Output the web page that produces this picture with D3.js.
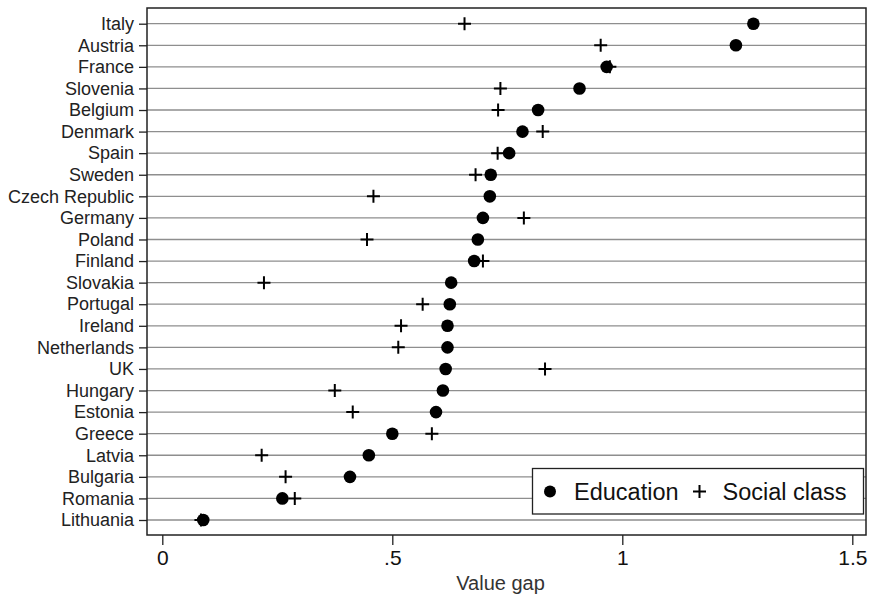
<!DOCTYPE html>
<html>
<head>
<meta charset="utf-8">
<script src="https://cdn.jsdelivr.net/npm/d3@7"></script>
<style>
  html, body { margin: 0; padding: 0; background: #fff; }
  svg { display: block; font-family: "Liberation Sans", Arial, sans-serif; }
</style>
</head>
<body>
<svg id="chart" width="870" height="598"></svg>
<script>
// Countries, top to bottom
const countries = ["Italy", "Austria", "France", "Slovenia", "Belgium", "Denmark", "Spain",
  "Sweden", "Czech Republic", "Germany", "Poland", "Finland", "Slovakia", "Portugal",
  "Ireland", "Netherlands", "UK", "Hungary", "Estonia", "Greece", "Latvia", "Bulgaria",
  "Romania", "Lithuania"];

// Value gap by education
const educationGap = [1.285, 1.247, 0.966, 0.907, 0.817, 0.783, 0.754, 0.714, 0.712, 0.697,
  0.686, 0.678, 0.628, 0.625, 0.620, 0.620, 0.616, 0.610, 0.595, 0.500, 0.449, 0.408,
  0.261, 0.089];

// Value gap by social class
const socialClassGap = [0.657, 0.953, 0.973, 0.735, 0.730, 0.827, 0.729, 0.681, 0.459, 0.786,
  0.445, 0.697, 0.221, 0.566, 0.519, 0.513, 0.832, 0.375, 0.414, 0.586, 0.216, 0.268,
  0.288, 0.084];

const xTicks = [0, 0.5, 1, 1.5];
const xTickLabels = ["0", ".5", "1", "1.5"];
const xTitle = "Value gap";
const legendLabels = ["Education", "Social class"];

const svg = d3.select("#chart");
const plot = { left: 147, right: 866, top: 8, bottom: 535 };

const x = d3.scaleLinear().domain([0, 1.5]).range([162.3, 852.3]);
const y = d3.scalePoint().domain(countries).range([23.7, 520]);

// Horizontal grid lines
svg.append("g").selectAll("line").data(countries).join("line")
  .attr("x1", plot.left).attr("x2", plot.right)
  .attr("y1", d => y(d)).attr("y2", d => y(d))
  .attr("stroke", "#8e8e8e").attr("stroke-width", 1.3);

// Plot frame
svg.append("rect")
  .attr("x", plot.left).attr("y", plot.top)
  .attr("width", plot.right - plot.left).attr("height", plot.bottom - plot.top)
  .attr("fill", "none").attr("stroke", "#222").attr("stroke-width", 1.5);

// Y axis (country names)
const yAxis = d3.axisLeft(y).tickSize(8).tickPadding(5);
const gy = svg.append("g").attr("transform", `translate(${plot.left},0)`).call(yAxis);
gy.select(".domain").remove();
gy.selectAll(".tick line").attr("stroke", "#222").attr("stroke-width", 1.3);
gy.selectAll(".tick text").attr("fill", "#222").attr("font-size", 18)
  .attr("font-family", "'Liberation Sans', Arial, sans-serif");

// X axis
const xAxis = d3.axisBottom(x).tickValues(xTicks)
  .tickFormat((d, i) => xTickLabels[i]).tickSize(10).tickPadding(5);
const gx = svg.append("g").attr("transform", `translate(0,${plot.bottom})`).call(xAxis);
gx.select(".domain").remove();
gx.selectAll(".tick line").attr("stroke", "#222").attr("stroke-width", 1.3);
gx.selectAll(".tick text").attr("fill", "#111").attr("font-size", 21)
  .attr("font-family", "'Liberation Sans', Arial, sans-serif");

svg.append("text")
  .attr("x", (plot.left + plot.right) / 2 - 6).attr("y", 590)
  .attr("text-anchor", "middle").attr("font-size", 20).attr("fill", "#333")
  .text(xTitle);

// Plus markers: social class
const plusSize = 6.5;
const plusPath = `M${-plusSize},0H${plusSize}M0,${-plusSize}V${plusSize}`;
svg.append("g").selectAll("path").data(countries).join("path")
  .attr("transform", (d, i) => `translate(${x(socialClassGap[i])},${y(d)})`)
  .attr("d", plusPath).attr("stroke", "#000").attr("stroke-width", 2).attr("fill", "none");

// Dot markers: education
svg.append("g").selectAll("circle").data(countries).join("circle")
  .attr("cx", (d, i) => x(educationGap[i])).attr("cy", d => y(d))
  .attr("r", 6.3).attr("fill", "#000");

// Legend
const lg = svg.append("g");
lg.append("rect").attr("x", 532.5).attr("y", 468.5).attr("width", 331).attr("height", 45.5)
  .attr("fill", "#fff").attr("stroke", "#222").attr("stroke-width", 1.3);
lg.append("circle").attr("cx", 550).attr("cy", 491.5).attr("r", 6).attr("fill", "#000");
lg.append("text").attr("x", 574).attr("y", 499.5).attr("font-size", 23.5).attr("fill", "#111")
  .text(legendLabels[0]);
lg.append("path").attr("transform", "translate(699.5,491.5)").attr("d", plusPath)
  .attr("stroke", "#000").attr("stroke-width", 2).attr("fill", "none");
lg.append("text").attr("x", 722.5).attr("y", 499.5).attr("font-size", 23.5).attr("fill", "#111")
  .text(legendLabels[1]);
</script>
</body>
</html>
